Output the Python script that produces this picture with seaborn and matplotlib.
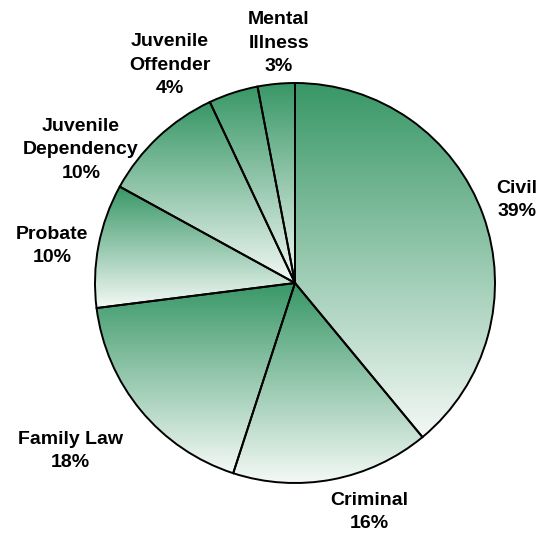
import numpy as np
import matplotlib
matplotlib.use("Agg")
import matplotlib.pyplot as plt
from matplotlib.colors import LinearSegmentedColormap
import seaborn as sns

# Caseload share by case type
categories = ["Civil", "Criminal", "Family Law", "Probate",
              "Juvenile\nDependency", "Juvenile\nOffender", "Mental\nIllness"]
shares = [39, 16, 18, 10, 10, 4, 3]

# Label anchor points (pixel coordinates, measured from the top-left)
label_xy = [(517, 200), (369, 512), (70, 451), (52, 246),
            (81, 150), (170, 65), (279, 43)]

sns.set_theme(style="white")
plt.rcParams["font.family"] = ["Liberation Sans", "DejaVu Sans"]

W, H = 545, 535
fig = plt.figure(figsize=(W / 100, H / 100), dpi=100)
ax = fig.add_axes([0, 0, 1, 1])

center = (295, H - 283)
radius = 200

wedges, _ = ax.pie(
    shares, startangle=90, counterclock=False,
    center=center, radius=radius,
    wedgeprops=dict(facecolor="none", edgecolor="black",
                    linewidth=1.4, zorder=3),
)

# Vertical green-to-white fill inside every slice
cmap = LinearSegmentedColormap.from_list("fade", ["#f4f9f6", "#389766"])
grad = np.linspace(0, 1, 256).reshape(-1, 1)
for w in wedges:
    ext = w.get_path().get_extents()
    im = ax.imshow(grad, cmap=cmap, origin="lower", aspect="auto",
                   extent=[ext.x0, ext.x1, ext.y0, ext.y1],
                   interpolation="bilinear", zorder=1)
    im.set_clip_path(w)

for cat, val, (x, y) in zip(categories, shares, label_xy):
    ax.text(x, H - y, f"{cat}\n{val}%", ha="center", va="center",
            multialignment="center", fontsize=14, fontweight="bold",
            linespacing=1.5, color="black", zorder=4)

ax.set_xlim(0, W)
ax.set_ylim(0, H)
ax.set_aspect("equal")
ax.axis("off")

fig.savefig("out.png", dpi=100, facecolor="white")
